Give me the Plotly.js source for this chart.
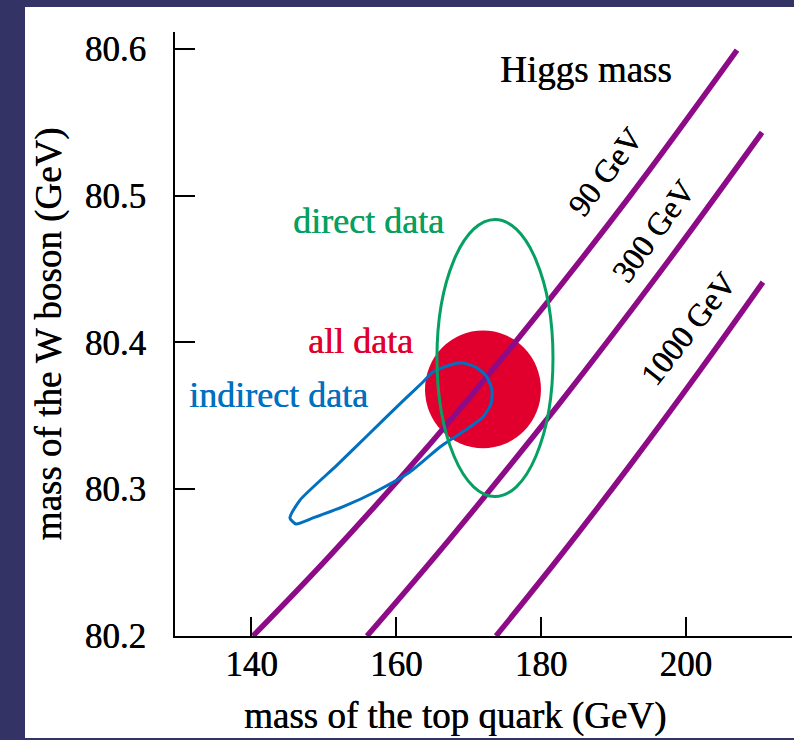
<!DOCTYPE html>
<html>
<head>
<meta charset="utf-8">
<script src="https://cdn.plot.ly/plotly-3.0.1.min.js"></script>
<style>
  html, body { margin: 0; padding: 0; background: #343366; }
  #chart { width: 794px; height: 740px; }
</style>
</head>
<body>
<div id="chart"></div>
<script>
// ---- data ----
// Higgs-mass lines (top-quark mass GeV, W mass GeV)
const top90 = [140.21, 150.85, 164.67, 175.72, 192.30, 207.08];
const w90   = [80.200, 80.2548, 80.3308, 80.3957, 80.4997, 80.599];
const top300 = [155.96, 167.43, 182.63, 196.44, 210.54];
const w300   = [80.200, 80.2663, 80.3589, 80.4478, 80.543];
const top1000 = [173.79, 182.63, 192.30, 201.97, 210.67];
const w1000   = [80.200, 80.2543, 80.3163, 80.3809, 80.441];

// indirect-data contour
const topIndirect = [165.08, 167.43, 169.23, 171.16, 172.54, 173.23, 173.09, 171.99, 170.19, 168.12,
                     166.05, 161.90, 157.07, 152.92, 148.50, 146.15, 145.32, 146.71,
                     151.82, 156.38, 160.94, 163.70, 165.08];
const wIndirect   = [80.3798, 80.3846, 80.3860, 80.3826, 80.3764, 80.3676, 80.3580, 80.3492, 80.3424, 80.3356,
                     80.3287, 80.3117, 80.2981, 80.2886, 80.2804, 80.2763, 80.2804, 80.2926,
                     80.3164, 80.3383, 80.3601, 80.3730, 80.3798];

// direct-data ellipse bounding box [top min, top max], [W min, W max]
const directTop = [165.63, 181.66];
const directW   = [80.295, 80.4837];
// all-data region bounding box
const allTop = [163.98, 180.00];
const allW   = [80.3279, 80.4080];

// axis ticks
const xTicks = [140, 160, 180, 200];
const yTicks = [80.2, 80.3, 80.4, 80.5, 80.6];
const yTickText = ['80.2', '80.3', '80.4', '80.5', '80.6'];

const higgsLabels = ['90 GeV', '300 GeV', '1000 GeV'];
const xTitle = 'mass of the top quark (GeV)';
const yTitle = 'mass of the W boson (GeV)';

// ---- styling ----
const SERIF = 'Liberation Serif, Times New Roman, serif';
const PURPLE = '#8E0B88';
const GREEN = '#05A062';
const BLUE = '#0070C0';
const RED = '#E1002D';

function f(size, color) {
  return { family: SERIF, size: size, color: color, shadow: '0.5px 0 0 ' + color };
}

const purpleLine = { color: PURPLE, width: 5.5, shape: 'spline', smoothing: 1 };

const traces = [
  { x: top90, y: w90, mode: 'lines', line: purpleLine, name: higgsLabels[0], hoverinfo: 'skip' },
  { x: top300, y: w300, mode: 'lines', line: purpleLine, name: higgsLabels[1], hoverinfo: 'skip' },
  { x: top1000, y: w1000, mode: 'lines', line: purpleLine, name: higgsLabels[2], hoverinfo: 'skip' },
  { x: topIndirect, y: wIndirect, mode: 'lines', name: 'indirect data',
    line: { color: BLUE, width: 3, shape: 'spline', smoothing: 0.6 }, hoverinfo: 'skip' }
];

const layout = {
  width: 794, height: 740,
  margin: { l: 175, r: 2, t: 32, b: 104, pad: 0 },
  paper_bgcolor: '#343366',
  plot_bgcolor: 'rgba(0,0,0,0)',
  showlegend: false,
  font: { family: SERIF, color: '#000', size: 34 },
  xaxis: {
    range: [129.44, 214.68],
    tickvals: xTicks,
    ticks: 'inside', ticklen: 19, tickwidth: 2, tickcolor: '#000',
    ticklabelstandoff: -4,
    showline: true, linecolor: '#000', linewidth: 2,
    showgrid: false, zeroline: false,
    tickfont: f(35, '#000')
  },
  yaxis: {
    range: [80.2, 80.6114],
    tickvals: yTicks, ticktext: yTickText,
    ticks: 'inside', ticklen: 20, tickwidth: 2, tickcolor: '#000',
    ticklabelstandoff: 20,
    showline: true, linecolor: '#000', linewidth: 2,
    showgrid: false, zeroline: false,
    tickfont: f(35, '#000'),
    title: { text: yTitle, font: f(37, '#000'), standoff: 12 }
  },
  shapes: [
    { type: 'rect', xref: 'paper', yref: 'paper', x0: -0.2431, x1: 1.01, y0: -0.1689, y1: 1.0414,
      fillcolor: '#FFFFFF', line: { width: 0 }, layer: 'below' },
    { type: 'circle', xref: 'x', yref: 'y', x0: allTop[0], x1: allTop[1], y0: allW[0], y1: allW[1],
      fillcolor: RED, line: { width: 0 }, layer: 'below' },
    { type: 'circle', xref: 'x', yref: 'y', x0: directTop[0], x1: directTop[1], y0: directW[0], y1: directW[1],
      fillcolor: 'rgba(0,0,0,0)', line: { color: GREEN, width: 3 }, layer: 'above' }
  ],
  annotations: [
    { text: xTitle, x: 0.4538, y: -0.132, xref: 'paper', yref: 'paper', showarrow: false,
      xanchor: 'center', yanchor: 'middle', font: f(37, '#000') },
    { text: 'Higgs mass', x: 186.22, y: 80.5856, xref: 'x', yref: 'y', showarrow: false,
      xanchor: 'center', yanchor: 'middle', font: f(37, '#000') },
    { text: 'direct data', x: 156.21, y: 80.4827, xref: 'x', yref: 'y', showarrow: false,
      xanchor: 'center', yanchor: 'middle', font: f(36, GREEN) },
    { text: 'all data', x: 155.11, y: 80.401, xref: 'x', yref: 'y', showarrow: false,
      xanchor: 'center', yanchor: 'middle', font: f(36, RED) },
    { text: 'indirect data', x: 143.71, y: 80.3642, xref: 'x', yref: 'y', showarrow: false,
      xanchor: 'center', yanchor: 'middle', font: f(36, BLUE) },
    { text: higgsLabels[0], x: 188.85, y: 80.516, xref: 'x', yref: 'y', showarrow: false, textangle: -53,
      xanchor: 'center', yanchor: 'middle', font: f(32, '#000') },
    { text: higgsLabels[1], x: 195.41, y: 80.4754, xref: 'x', yref: 'y', showarrow: false, textangle: -54,
      xanchor: 'center', yanchor: 'middle', font: f(32, '#000') },
    { text: higgsLabels[2], x: 200.31, y: 80.4091, xref: 'x', yref: 'y', showarrow: false, textangle: -52,
      xanchor: 'center', yanchor: 'middle', font: f(32, '#000') }
  ]
};

Plotly.newPlot('chart', traces, layout, { staticPlot: true, displayModeBar: false });
</script>
</body>
</html>
